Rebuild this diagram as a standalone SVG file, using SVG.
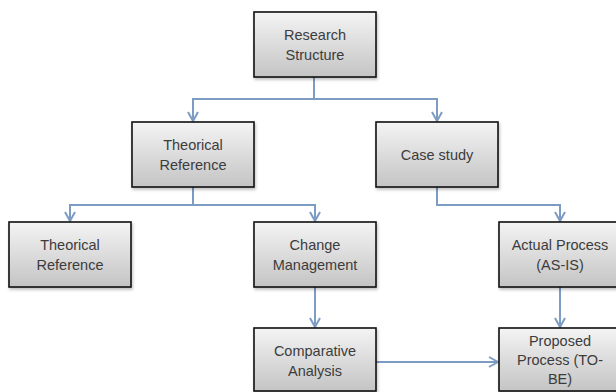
<svg xmlns="http://www.w3.org/2000/svg" width="616" height="392" viewBox="0 0 616 392">
  <defs>
    <linearGradient id="boxFill" x1="0" y1="0" x2="0" y2="1">
      <stop offset="0" stop-color="#f4f4f4"/>
      <stop offset="1" stop-color="#c4c4c4"/>
    </linearGradient>
    <filter id="shadow" x="-10%" y="-10%" width="130%" height="140%">
      <feDropShadow dx="1" dy="2" stdDeviation="1.5" flood-color="#000" flood-opacity="0.25"/>
    </filter>
    <marker id="arr" markerWidth="12" markerHeight="12" refX="10" refY="6" orient="auto" markerUnits="userSpaceOnUse">
      <path d="M1,1 L10,6 L1,11" fill="none" stroke="#7d9cc4" stroke-width="2"/>
    </marker>
    <style>
      .box { fill: url(#boxFill); stroke: #111; stroke-width: 1.6; filter: url(#shadow); }
      .lbl { font-family: "Liberation Sans", Arial, sans-serif; font-size: 14.5px; fill: #3c3c3c; text-anchor: middle; }
      .conn { fill: none; stroke: #7d9cc4; stroke-width: 2; }
    </style>
  </defs>
  <rect width="616" height="392" fill="#ffffff"/>

  <g id="connectors">
    <path class="conn" d="M314,77 V99 H193 V121" marker-end="url(#arr)"/>
    <path class="conn" d="M314,99 H437 V121" marker-end="url(#arr)"/>
    <path class="conn" d="M193,187 V205 H70 V221" marker-end="url(#arr)"/>
    <path class="conn" d="M193,205 H315 V221" marker-end="url(#arr)"/>
    <path class="conn" d="M437,187 V205 H560 V221" marker-end="url(#arr)"/>
    <path class="conn" d="M315,287 V327" marker-end="url(#arr)"/>
    <path class="conn" d="M560,287 V327" marker-end="url(#arr)"/>
    <path class="conn" d="M376,362 H498" marker-end="url(#arr)"/>
  </g>

  <g id="research-structure">
    <rect class="box" x="254" y="12" width="122" height="65"/>
    <text class="lbl" x="315" y="40">Research</text>
    <text class="lbl" x="315" y="60">Structure</text>
  </g>

  <g id="theorical-reference-1">
    <rect class="box" x="132" y="122" width="122" height="65"/>
    <text class="lbl" x="193" y="150">Theorical</text>
    <text class="lbl" x="193" y="170">Reference</text>
  </g>

  <g id="case-study">
    <rect class="box" x="376" y="122" width="122" height="65"/>
    <text class="lbl" x="437" y="160">Case study</text>
  </g>

  <g id="theorical-reference-2">
    <rect class="box" x="9" y="222" width="122" height="65"/>
    <text class="lbl" x="70" y="250">Theorical</text>
    <text class="lbl" x="70" y="270">Reference</text>
  </g>

  <g id="change-management">
    <rect class="box" x="254" y="222" width="122" height="65"/>
    <text class="lbl" x="315" y="250">Change</text>
    <text class="lbl" x="315" y="270">Management</text>
  </g>

  <g id="actual-process">
    <rect class="box" x="499" y="222" width="122" height="65"/>
    <text class="lbl" x="560" y="250">Actual Process</text>
    <text class="lbl" x="560" y="270">(AS-IS)</text>
  </g>

  <g id="comparative-analysis">
    <rect class="box" x="254" y="328" width="122" height="63"/>
    <text class="lbl" x="315" y="356">Comparative</text>
    <text class="lbl" x="315" y="376">Analysis</text>
  </g>

  <g id="proposed-process">
    <rect class="box" x="499" y="328" width="122" height="63"/>
    <text class="lbl" x="560" y="346">Proposed</text>
    <text class="lbl" x="560" y="365">Process (TO-</text>
    <text class="lbl" x="560" y="384">BE)</text>
  </g>
</svg>
